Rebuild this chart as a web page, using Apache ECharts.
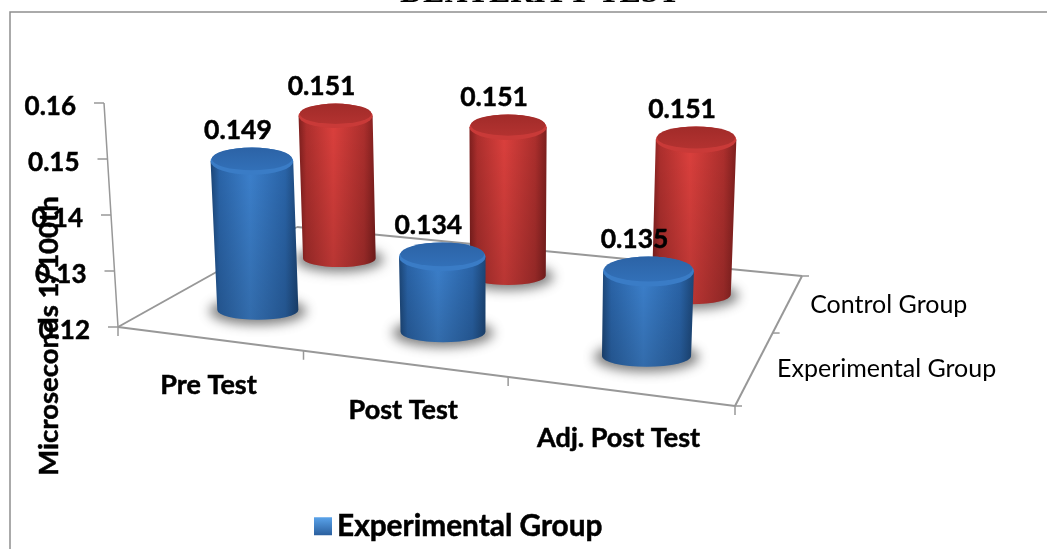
<!DOCTYPE html>
<html>
<head>
<meta charset="utf-8">
<style>
  html, body { margin: 0; padding: 0; background: #fff; }
  #main { width: 1047px; height: 549px; }
</style>
<script src="https://cdn.jsdelivr.net/npm/echarts@6/dist/echarts.min.js"></script>
</head>
<body>
<div id="main"></div>
<script>
const categories = ['Pre Test', 'Post Test', 'Adj. Post Test']
const depthGroups = ['Experimental Group', 'Control Group']
const experimentalValues = [0.149, 0.134, 0.135]
const controlValues = [0.151, 0.151, 0.151]
const valueTicks = [0.12, 0.13, 0.14, 0.15, 0.16]

const labelFont = 'Lato'
const axisColor = '#989898'

// floor of the 3d box: front left, front right, back right, back left
const floor = [[118, 327], [735, 406], [802, 276], [297, 227]]
const dx1 = floor[1][0] - floor[2][0], dx2 = floor[3][0] - floor[2][0]
const dy1 = floor[1][1] - floor[2][1], dy2 = floor[3][1] - floor[2][1]
const sx = floor[0][0] - floor[1][0] + floor[2][0] - floor[3][0]
const sy = floor[0][1] - floor[1][1] + floor[2][1] - floor[3][1]
const den = dx1 * dy2 - dx2 * dy1
const pg = (sx * dy2 - dx2 * sy) / den
const ph = (dx1 * sy - sx * dy1) / den

// u runs over the categories, v over the groups. third value is the depth scale
function floorPt(u, v) {
    const x = u / categories.length, y = v / depthGroups.length
    const w = 1 + pg * x + ph * y
    const px = (floor[1][0] - floor[0][0] + pg * floor[1][0]) * x + (floor[3][0] - floor[0][0] + ph * floor[3][0]) * y + floor[0][0]
    const py = (floor[1][1] - floor[0][1] + pg * floor[1][1]) * x + (floor[3][1] - floor[0][1] + ph * floor[3][1]) * y + floor[0][1]
    return [px / w, py / w, 1 / w]
}

// verticals lean away from a point below the chart
function lift(p, h) {
    return [p[0] + h * (p[0] - 502) / 6139, p[1] - h]
}

function line(a, b, w) {
    return {
        type: 'line',
        shape: { x1: a[0], y1: a[1], x2: b[0], y2: b[1] },
        style: { stroke: axisColor, lineWidth: w || 1.5 }
    }
}

function label(text, x, y, size, weight, align) {
    const style = {
        text: text, x: x, y: y, fill: '#000', fontFamily: labelFont, fontSize: size, fontWeight: weight,
        align: align || 'center', verticalAlign: 'middle'
    }
    if (weight === 'bold') {
        // lato bold is a bit lighter than the original
        style.stroke = '#000'
        style.lineWidth = 0.5
    }
    return { type: 'text', style: style }
}

function ellipsePath(cx, cy, rx, ry) {
    return 'M' + (cx - rx) + ' ' + cy + 'A' + rx + ' ' + ry + ' 0 1 1 ' + (cx + rx) + ' ' + cy +
        'A' + rx + ' ' + ry + ' 0 1 1 ' + (cx - rx) + ' ' + cy + 'Z'
}

function sideGradient(c) {
    return {
        type: 'linear', x: 0, y: 0, x2: 1, y2: 0,
        colorStops: [
            { offset: 0, color: c.edge },
            { offset: 0.1, color: c.mid },
            { offset: 0.45, color: c.light },
            { offset: 0.85, color: c.mid },
            { offset: 1, color: c.edge }
        ]
    }
}

function cylinder(depth, c) {
    return function (params, api) {
        const idx = api.value(0), val = api.value(1)
        const base = floorPt(idx + 0.5, depth)
        const s = base[2]
        base[0] += 1
        base[1] += 2
        const h = (api.coord([idx, valueTicks[0]])[1] - api.coord([idx, val])[1]) * s * 0.95
        const top = lift(base, h)
        const rb = 42 * s, rt = rb * 1.02
        const ryb = rb * 0.24, ryt = rt * 0.33
        const body = 'M' + (top[0] - rt) + ' ' + top[1] + 'L' + (base[0] - rb) + ' ' + base[1] +
            'A' + rb + ' ' + ryb + ' 0 0 0 ' + (base[0] + rb) + ' ' + base[1] +
            'L' + (top[0] + rt) + ' ' + top[1] + 'Z'
        return {
            type: 'group',
            children: [
                // only the blurred shadow of this shape lands on the chart
                {
                    type: 'path', shape: { pathData: ellipsePath(base[0] - 3000, base[1] + 1, rb + 8, ryb + 4) },
                    style: { fill: '#000', shadowBlur: 12, shadowOffsetX: 3000, shadowColor: 'rgba(70,70,70,0.7)' }
                },
                { type: 'path', shape: { pathData: body }, style: { fill: sideGradient(c) } },
                {
                    type: 'path', shape: { pathData: body },
                    style: {
                        fill: {
                            type: 'linear', x: 0, y: 0, x2: 0, y2: 1,
                            colorStops: [{ offset: 0, color: 'rgba(0,0,0,0)' }, { offset: 1, color: 'rgba(0,0,0,0.16)' }]
                        }
                    }
                },
                { type: 'path', shape: { pathData: ellipsePath(top[0], top[1], rt, ryt) }, style: { fill: c.rim } },
                {
                    type: 'path', shape: { pathData: ellipsePath(top[0], top[1] - ryt * 0.17, rt * 0.97, ryt * 0.83) },
                    style: {
                        fill: {
                            type: 'linear', x: 0, y: 0, x2: 0, y2: 1,
                            colorStops: [{ offset: 0, color: c.face }, { offset: 1, color: c.faceLow }]
                        }
                    }
                },
                label(val.toFixed(3), top[0] - 14, top[1] - ryt - 17, 26.5, 'bold')
            ]
        }
    }
}

function drawFloor() {
    const fl = floorPt(0, 0), fr = floorPt(3, 0), br = floorPt(3, 2), bl = floorPt(0, 2)
    const kids = [line(fl, fr, 2), line(fr, br, 2), line(br, bl, 2), line(bl, fl, 2)]
    categories.concat(['']).forEach(function (c, i) {
        const p = floorPt(i, 0)
        kids.push(line(p, [p[0], p[1] + 9]))
    })
    depthGroups.concat(['']).forEach(function (c, i) {
        const p = floorPt(3, i)
        kids.push(line(p, [p[0] + 7, p[1]]))
    })
    categories.forEach(function (c, i) {
        const p = floorPt(i + 0.5, 0)
        kids.push(label(c, p[0], p[1] + 47, 27, 'bold'))
    })
    depthGroups.forEach(function (c, i) {
        const p = floorPt(3, i + 0.5)
        kids.push(label(c, p[0] + 22, p[1] + 2, 25, 'normal', 'left'))
    })
    return { type: 'group', children: kids }
}

function drawValueTick(params, api) {
    const v = api.value(0)
    const h = api.coord([0, valueTicks[0]])[1] - api.coord([0, v])[1]
    const p = lift(floorPt(0, 0), h)
    const kids = [line([p[0] - 10, p[1]], p)]
    if (params.dataIndex > 0) {
        kids.push(line(p, lift(floorPt(0, 0), api.coord([0, valueTicks[0]])[1] - api.coord([0, valueTicks[params.dataIndex - 1]])[1])))
    }
    kids.push(label(String(v), p[0] - 28, p[1] + 4, 26, 'bold', 'right'))
    return { type: 'group', children: kids }
}

const blue = { edge: '#1c4677', mid: '#2a64a8', light: '#3c80cc', rim: '#3a7cc6', face: '#2c63a6', faceLow: '#3270b8' }
const red = { edge: '#7e1f1e', mid: '#ad2f2d', light: '#dc403d', rim: '#c93a38', face: '#a12b29', faceLow: '#b33230' }

const option = {
    animation: false,
    title: {
        text: 'DEXTERITY TEST', left: 395, top: -27,
        textStyle: { fontFamily: 'Liberation Serif', fontWeight: 'bold', fontSize: 32, color: '#000' }
    },
    legend: {
        data: ['Experimental Group'], left: 309, top: 506, icon: 'rect', itemWidth: 18, itemHeight: 18, itemGap: 12,
        textStyle: { fontFamily: labelFont, fontWeight: 'bold', fontSize: 29.8, color: '#000', textBorderColor: '#000', textBorderWidth: 0.5 }
    },
    grid: { left: 118, top: 103, width: 617, height: 224 },
    xAxis: { type: 'category', data: categories, show: false },
    yAxis: { type: 'value', min: 0.12, max: 0.16, interval: 0.01, show: false },
    graphic: [
        {
            type: 'polyline', shape: { points: [[10, 549], [10, 12], [1047, 12]] },
            style: { stroke: '#8e8e8e', fill: 'none', lineWidth: 1.5 }
        },
        {
            type: 'text', x: 49, y: 336, rotation: Math.PI / 2, z: 10,
            style: {
                text: 'Microseconds 1/100th', fill: '#000', stroke: '#000', lineWidth: 0.5,
                fontFamily: labelFont, fontSize: 27.5, fontWeight: 'bold',
                align: 'center', verticalAlign: 'middle'
            }
        }
    ],
    series: [
        { type: 'custom', name: 'floor', silent: true, data: [0], renderItem: drawFloor, encode: { y: 0 }, z: 1 },
        { type: 'custom', name: 'ticks', silent: true, data: valueTicks.map(function (v) { return [v] }), renderItem: drawValueTick, encode: { y: 0 }, z: 1 },
        {
            type: 'custom', name: 'Control Group', z: 2,
            data: controlValues.map(function (v, i) { return [i, v] }),
            renderItem: cylinder(1.5, red), encode: { x: 0, y: 1 }, itemStyle: { color: '#c93a38' }
        },
        {
            type: 'custom', name: 'Experimental Group', z: 3,
            data: experimentalValues.map(function (v, i) { return [i, v] }),
            renderItem: cylinder(0.5, blue), encode: { x: 0, y: 1 },
            itemStyle: {
                color: { type: 'linear', x: 0, y: 0, x2: 0, y2: 1, colorStops: [{ offset: 0, color: '#5aa3ea' }, { offset: 1, color: '#2a5f9e' }] }
            }
        }
    ]
}

const chart = echarts.init(document.getElementById('main'), null, { renderer: 'canvas' })
chart.setOption(option)
</script>
</body>
</html>
